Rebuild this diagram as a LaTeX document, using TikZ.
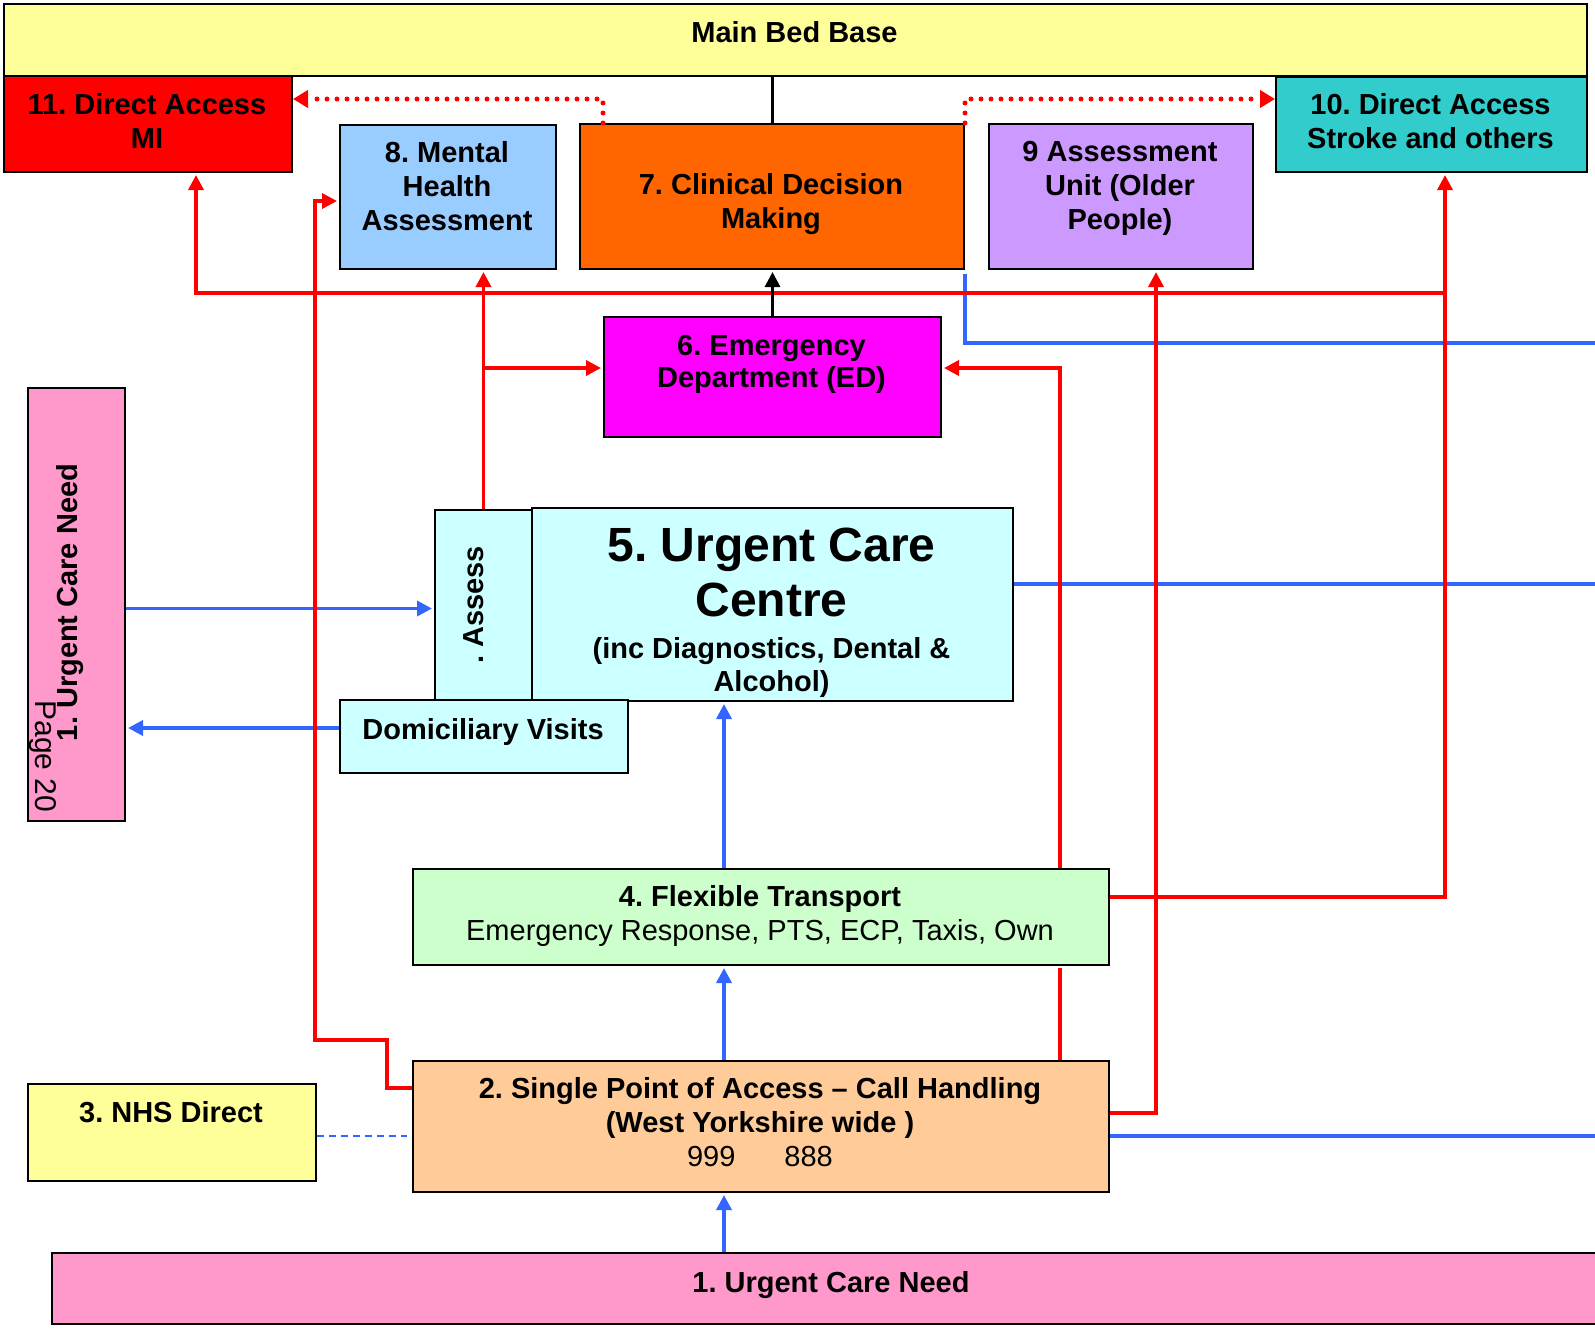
\documentclass[tikz,border=0pt]{standalone}
\usepackage{fontspec}
\setmainfont{Liberation Sans}
\usetikzlibrary{arrows.meta,calc}
\definecolor{cYel}{HTML}{FFFF99}
\definecolor{cRedBox}{HTML}{FF0000}
\definecolor{cLBlue}{HTML}{99CCFF}
\definecolor{cOra}{HTML}{FF6600}
\definecolor{cLav}{HTML}{CC99FF}
\definecolor{cTeal}{HTML}{33CCCC}
\definecolor{cMag}{HTML}{FF00FF}
\definecolor{cCyan}{HTML}{CCFFFF}
\definecolor{cGreen}{HTML}{CCFFCC}
\definecolor{cPeach}{HTML}{FFCC99}
\definecolor{cPink}{HTML}{FF99CC}
\definecolor{cRed}{HTML}{FF0000}
\definecolor{cBlue}{HTML}{3366FF}
\frenchspacing
\begin{document}
\begin{tikzpicture}[x=1pt,y=-1pt,
  box/.style={draw=black, line width=2pt, rectangle, inner sep=0pt, anchor=north west},
  txt/.style={align=center, inner sep=0pt, anchor=north, font=\fontsize{29}{34}\selectfont\bfseries},
  rl/.style={draw=cRed, line width=3.5pt},
  bl/.style={draw=cBlue, line width=3.5pt},
  kl/.style={draw=black, line width=3pt},
  tip/.style={-{Triangle[length=15pt,width=15pt]}, shorten >=2pt},
  rdot/.style={draw=cRed, line width=5pt, line cap=round, dash pattern=on 0pt off 10pt, -{Triangle[length=15pt,width=17pt]}},
  bdash/.style={draw=cBlue, line width=2pt, dash pattern=on 7pt off 5pt}]
\useasboundingbox (0,0) rectangle (1595,1331);
% boxes
\node[box, fill=cYel, minimum width=1583pt, minimum height=72pt] (mbb) at (3,3) {};
\node[box, fill=cRedBox, minimum width=288pt, minimum height=96pt] (b11) at (3,75) {};
\node[box, fill=cTeal, minimum width=311pt, minimum height=95pt] (b10) at (1275,76) {};
\node[box, fill=cLBlue, minimum width=216pt, minimum height=144pt] (b8) at (339,124) {};
\node[box, fill=cOra, minimum width=384pt, minimum height=145pt] (b7) at (579,123) {};
\node[box, fill=cLav, minimum width=264pt, minimum height=145pt] (b9) at (988,123) {};
\node[box, fill=cMag, minimum width=337pt, minimum height=120pt] (b6) at (603,316) {};
\node[box, fill=cPink, minimum width=97pt, minimum height=433pt] (bL) at (27,387) {};
\node[box, fill=cCyan, minimum width=97pt, minimum height=190pt] (assess) at (434,509) {};
\node[box, fill=cCyan, minimum width=481pt, minimum height=193pt] (b5) at (531,507) {};
\node[box, fill=cCyan, minimum width=288pt, minimum height=73pt] (dom) at (339,699) {};
\node[box, fill=cGreen, minimum width=696pt, minimum height=96pt] (b4) at (412,868) {};
\node[box, fill=cYel, minimum width=288pt, minimum height=97pt] (b3) at (27,1083) {};
\node[box, fill=cPeach, minimum width=696pt, minimum height=131pt] (b2) at (412,1060) {};
\node[box, fill=cPink, minimum width=1560pt, minimum height=71pt] (b1) at (51,1252) {};
% helper coordinates
\coordinate (E) at (1595,0);
\coordinate (pA) at ([yshift=-4pt]bL.east);
\coordinate (x723a) at ([xshift=-37pt]b4.north);
\coordinate (x723b) at ([xshift=-37pt]b2.north);
\coordinate (c3) at ([yshift=-3.5pt]b3.east);
\coordinate (d1) at ([yshift=8.5pt]dom.west);
\coordinate (e5) at ([yshift=20.5pt]b5.east);
\coordinate (e2) at ([yshift=-9.5pt]b2.east);
\coordinate (s7) at ([yshift=-4pt]b7.south east);
\coordinate (eR1) at (1595,343);
\coordinate (j1) at (1444,293);
\coordinate (a6) at ([yshift=9pt]b6.west);
\coordinate (r6) at ([yshift=9pt]b6.east);
\coordinate (x1059) at ([xshift=299pt]b4.north);
% blue connectors
\draw[bl,tip] (pA) -- (pA -| assess.west);
\draw[bl,tip] (d1) -- (d1 -| bL.east);
\draw[bl,tip] (x723a) -- (x723a |- b5.south);
\draw[bl,tip] (x723b) -- (x723b |- b4.south);
\draw[bl,tip] (x723b |- b1.north) -- (x723b |- b2.south);
\draw[bdash] (c3) -- ([xshift=-5pt]c3 -| b2.west);
\draw[bl] (e5) -- (e5 -| E);
\draw[bl] (e2) -- (e2 -| E);
\draw[bl] (s7) |- (eR1);
% red connectors
\draw[rl,tip] ([yshift=20pt]b4.east) -| ([xshift=13.5pt]b10.south);
\draw[rl,tip] (j1) -| ([xshift=48pt]b11.south);
\draw[rl,tip] ([yshift=38.5pt]b2.west) -- ++(-25,0) -- ++(0,-48) -- ++(-72,0) |- ([yshift=-4pt]b8.west);
\draw[rl,tip] (assess.north) -- (assess.north |- b8.south);
\draw[rl,tip] (assess.north |- a6) -- (a6);
\draw[rl,tip] (x1059) |- (r6);
\draw[rl] (x1059 |- b2.north) -- ++(0,-92);
\draw[rl,tip] ([yshift=13.5pt]b2.east) -| ([xshift=35pt]b9.south);
% black connectors
\draw[kl] (b7.north) -- (b7.north |- mbb.south);
\draw[kl,tip] (b6.north) -- (b6.north |- b7.south);
% dotted red
\draw[rdot] ([xshift=24pt]b7.north west) |- ([yshift=-24pt]b11.north east);
\draw[rdot] (b7.north east) |- ([yshift=-23pt]b10.north west);
% texts
\node[txt] (tmbb) at (794.5,21.5) {Main Bed Base};
\node[txt] (t11) at (147,93) {11. Direct Access\\MI};
\node[txt] (t10) at (1430.5,93) {10. Direct Access\\Stroke and others};
\node[txt] (t8) at (447,141.5) {8. Mental\\Health\\Assessment};
\node[txt] (t7) at (771,173) {7. Clinical Decision\\Making};
\node[txt] (t9) at (1120,141.5) {9 Assessment\\Unit (Older\\People)};
\node[txt, font=\fontsize{29}{32}\selectfont\bfseries] (t6) at (771.5,335) {6. Emergency\\Department (ED)};
\node[txt, font=\fontsize{48}{55}\selectfont\bfseries] (t5a) at (771.5,528) {5. Urgent Care\\Centre};
\node[txt, font=\fontsize{29}{33}\selectfont\bfseries] (t5b) at (771.5,637) {(inc Diagnostics, Dental \&\\Alcohol)};
\node[txt] (tdom) at (483,718) {Domiciliary Visits};
\node[txt] (t4) at (760,885) {4. Flexible Transport\\{\mdseries Emergency Response, PTS, ECP, Taxis, Own}};
\node[txt] (t2) at (760,1077) {2. Single Point of Access \textendash{} Call Handling\\(West Yorkshire wide )\\{\mdseries 999\hspace{49pt}888}};
\node[txt] (t3) at (171,1101.5) {3. NHS Direct};
\node[txt] (t1) at (831,1271.5) {1. Urgent Care Need};
\node[txt, anchor=base, rotate=90] (tA) at (483,605) {. Assess};
\node[txt, anchor=base, rotate=90] (tL) at (77,602.5) {1. Urgent Care Need};
\node[txt, anchor=base, rotate=-90, font=\fontsize{30}{34}\selectfont] (tP) at (35,756.5) {Page 20};
\end{tikzpicture}
\end{document}
